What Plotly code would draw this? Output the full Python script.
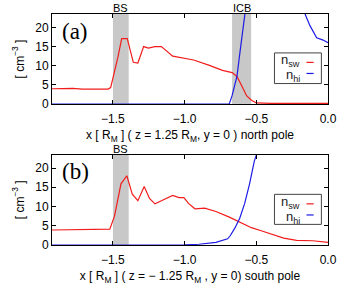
import plotly.graph_objects as go

# ---------------- data ----------------
top_x_sw = [-1.925, -1.85, -1.78, -1.714, -1.62, -1.534, -1.516, -1.489, -1.466, -1.439, -1.40,
            -1.358, -1.326, -1.286, -1.252, -1.207, -1.162, -1.083, -1.016, -0.937, -0.827,
            -0.736, -0.669, -0.635, -0.601, -0.568, -0.534, -0.50, -0.40, -0.30, -0.20, -0.10, 0.0]
top_sw = [4.0, 4.0, 4.1, 3.9, 3.9, 3.9, 4.3, 8.4, 12.1, 17.1, 17.1,
          10.9, 10.7, 15.0, 14.6, 15.0, 15.0, 12.5, 12.1, 11.5, 10.1,
          8.8, 8.2, 7.2, 4.7, 2.2, 1.0, 0.3, 0.2, 0.2, 0.2, 0.2, 0.2]

top_x_hi = [-1.925, -1.5, -1.0, -0.75, -0.689, -0.669, -0.635, -0.613, -0.59, -0.55, -0.45,
            -0.35, -0.25, -0.18, -0.158, -0.125, -0.079, -0.034, 0.0]
top_hi = [0.0, 0.0, 0.0, 0.0, 0.0, 2.2, 7.2, 13.8, 22.8, 32.0, 40.0,
          42.0, 36.0, 27.0, 23.3, 20.4, 17.3, 16.7, 16.0]

bot_x_sw = [-1.925, -1.804, -1.714, -1.522, -1.489, -1.444, -1.403, -1.365, -1.326, -1.282,
            -1.245, -1.207, -1.162, -1.083, -1.039, -1.005, -0.973, -0.928, -0.86, -0.782,
            -0.692, -0.613, -0.534, -0.466, -0.399, -0.309, -0.219, -0.106, 0.0]
bot_sw = [3.9, 4.0, 4.1, 4.1, 7.5, 15.9, 18.0, 13.2, 11.5, 15.2,
          12.1, 10.7, 11.5, 12.9, 12.3, 12.3, 10.8, 9.4, 9.6, 8.7,
          7.3, 5.8, 4.5, 3.7, 2.9, 1.8, 1.2, 1.1, 0.7]

bot_x_hi = [-1.925, -1.2, -1.0, -0.9, -0.782, -0.70, -0.682, -0.648, -0.615, -0.581, -0.547,
            -0.514, -0.49, -0.45, -0.3, -0.1, 0.0]
bot_hi = [0.0, 0.0, 0.05, 0.2, 0.7, 1.6, 2.4, 4.5, 7.0, 10.8, 15.9,
          21.8, 25.0, 32.0, 45.0, 50.0, 52.0]

bs_top = [-1.5, -1.39]
icb_top = [-0.669, -0.536]
bs_bot = [-1.5, -1.39]

x_ticks = [-1.5, -1.0, -0.5, 0.0]
y_ticks = [0, 5, 10, 15, 20]
x_range = [-1.925, 0.0]
y_range = [0, 23.5]

RED = "#f21c1c"
BLUE = "#1c1ce6"
GREY = "#c8c8c8"
FONT = "Liberation Sans"

fig = go.Figure()
fig.add_trace(go.Scatter(x=top_x_sw, y=top_sw, mode="lines", line=dict(color=RED, width=1.2),
                         xaxis="x", yaxis="y", showlegend=False))
fig.add_trace(go.Scatter(x=top_x_hi, y=top_hi, mode="lines", line=dict(color=BLUE, width=1.2),
                         xaxis="x", yaxis="y", showlegend=False))
fig.add_trace(go.Scatter(x=bot_x_sw, y=bot_sw, mode="lines", line=dict(color=RED, width=1.2),
                         xaxis="x2", yaxis="y2", showlegend=False))
fig.add_trace(go.Scatter(x=bot_x_hi, y=bot_hi, mode="lines", line=dict(color=BLUE, width=1.2),
                         xaxis="x2", yaxis="y2", showlegend=False))

shapes = []
annotations = []
for (xr, yr, band) in [("x", "y", bs_top), ("x", "y", icb_top), ("x2", "y2", bs_bot)]:
    shapes.append(dict(type="rect", xref=xr, yref=yr + " domain", x0=band[0], x1=band[1],
                       y0=0, y1=1, fillcolor=GREY, line=dict(width=0), layer="below"))

# band labels
for xr, yr, band, lab in [("x", "y", bs_top, "BS"), ("x", "y", icb_top, "ICB"), ("x2", "y2", bs_bot, "BS")]:
    annotations.append(dict(text=lab, xref=xr, yref=yr + " domain", x=sum(band) / 2, y=1.0,
                            yanchor="bottom", showarrow=False,
                            font=dict(family=FONT, size=11, color="black"), yshift=-2))

# panel labels
for xa, ya, lab in [("x", "y", "(a)"), ("x2", "y2", "(b)")]:
    annotations.append(dict(text=lab, xref=xa + " domain", yref=ya + " domain", x=0.03, y=0.97,
                            xanchor="left", yanchor="top", showarrow=False,
                            font=dict(family="Liberation Serif", size=23, color="black")))

# custom gnuplot-style legends (text left, line sample right)
for xa, ya, top, bot in [("x", "y", 0.568, 0.228), ("x2", "y2", 0.56, 0.228)]:
    shapes.append(dict(type="rect", xref=xa + " domain", yref=ya + " domain", x0=0.806, x1=0.976,
                       y0=bot, y1=top, fillcolor="white", line=dict(color="#444444", width=1), layer="above"))
    y_sw = top - 0.105
    y_hi = top - 0.228
    shapes.append(dict(type="line", xref=xa + " domain", yref=ya + " domain", x0=0.922, x1=0.948,
                       y0=y_sw, y1=y_sw, line=dict(color=RED, width=1.2)))
    shapes.append(dict(type="line", xref=xa + " domain", yref=ya + " domain", x0=0.922, x1=0.948,
                       y0=y_hi, y1=y_hi, line=dict(color=BLUE, width=1.2)))
    annotations.append(dict(text="n<sub>sw</sub>", xref=xa + " domain", yref=ya + " domain",
                            x=0.905, y=top - 0.085, xanchor="right", yanchor="middle", showarrow=False,
                            font=dict(family=FONT, size=13, color="#222222")))
    annotations.append(dict(text="n<sub>hi</sub>", xref=xa + " domain", yref=ya + " domain",
                            x=0.905, y=top - 0.255, xanchor="right", yanchor="middle", showarrow=False,
                            font=dict(family=FONT, size=13, color="#222222")))

axis_common = dict(showline=True, linecolor="black", linewidth=1, mirror="ticks", ticks="inside",
                   ticklen=4, tickcolor="black", showgrid=False, zeroline=False,
                   tickfont=dict(family=FONT, size=12, color="black"))

xtitle_font = dict(family=FONT, size=12, color="black")

fig.update_layout(
    width=349, height=293,
    margin=dict(l=52, r=12, t=14, b=35),
    plot_bgcolor="white", paper_bgcolor="white",
    shapes=shapes, annotations=annotations,
    xaxis=dict(domain=[0, 1], anchor="y", range=x_range, tickvals=x_ticks, tickformat=".1f",
               ticklabelstandoff=4,
               title=dict(text="x [ R<sub>M</sub> ] ( z = 1.25 R<sub>M</sub>, y = 0 ) north pole",
                          font=xtitle_font, standoff=5),
               **axis_common),
    yaxis=dict(domain=[0.61, 1.0], anchor="x", range=y_range, tickvals=y_ticks,
               title=dict(text="[ cm<sup>−3</sup> ]", font=xtitle_font, standoff=8),
               **axis_common),
    xaxis2=dict(domain=[0, 1], anchor="y2", range=x_range, tickvals=x_ticks, tickformat=".1f",
                ticklabelstandoff=4,
                title=dict(text="x [ R<sub>M</sub> ] ( z = − 1.25 R<sub>M</sub> , y = 0) south pole",
                           font=xtitle_font, standoff=5),
                **axis_common),
    yaxis2=dict(domain=[0.0, 0.3915], anchor="x2", range=y_range, tickvals=y_ticks,
                title=dict(text="[ cm<sup>−3</sup> ]", font=xtitle_font, standoff=8),
                **axis_common),
)

fig.write_html("out.html")
